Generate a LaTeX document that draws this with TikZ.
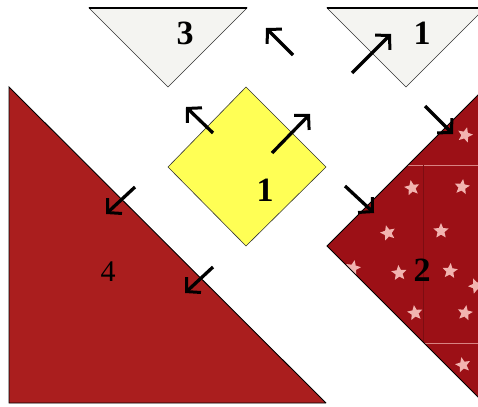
\documentclass[tikz,border=0pt]{standalone}
\usepackage{fontspec}
\setmainfont{Liberation Serif}
\usetikzlibrary{arrows.meta,shapes.geometric}
\definecolor{paper}{HTML}{F4F4F1}
\definecolor{redA}{HTML}{AA1E1E}
\definecolor{redB}{HTML}{9C1016}
\definecolor{starpink}{HTML}{F2B4B0}
\definecolor{yel}{HTML}{FFFF55}
\tikzset{
  piece/.style={draw=black!80, line width=0.6pt, line join=miter},
  lbl/.style={inner sep=0pt, font=\fontsize{34}{34}\selectfont\bfseries},
  mv/.style={line width=3.3pt, -{Straight Barb[length=10pt,width=21pt,line width=3pt]}},
  fabstar/.style={star, star points=5, star point ratio=2.2, fill=starpink, draw=none, minimum size=16pt, inner sep=0pt},
}
\begin{document}
\begin{tikzpicture}[x=1pt,y=-1pt]
\useasboundingbox (0,0) rectangle (478,406);
\fill[white] (0,0) rectangle (478,406);
% top triangles
\path[piece, fill=paper] (89,8) -- (247,8) -- (168,87) -- cycle;
\draw[line width=1.2pt] (89,8) -- (247,8);
\path[piece, fill=paper] (327,8) -- (485,8) -- (406,87) -- cycle;
\draw[line width=1.2pt] (327,8) -- (485,8);
% yellow square
\path[piece, fill=yel] (246,87) -- (326,167) -- (246,246) -- (168,167) -- cycle;
% left red triangle
\path[fill=redA] (9,87) -- (9,403) -- (326,403) -- cycle;
\draw[black, line width=0.9pt] (326,403) -- (9,403) -- (9,87) -- (326,403);
% right red piece
\begin{scope}
\clip (327,246) -- (482,91) -- (482,401) -- cycle;
\fill[redB] (327,246) -- (482,91) -- (482,401) -- cycle;
\draw[starpink!70!redB, line width=1pt] (400,165) -- (480,165);
\draw[starpink!70!redB, line width=1pt] (400,343) -- (480,343);
\draw[redB!80!black, line width=0.6pt] (423,165) -- (423,343);
\foreach \x/\y/\r in {412/188/10, 462/187/-8, 388/233/15, 441/231/0, 353/268/-12, 399/273/5,
  450/271/-5, 476/286/20, 415/313/8, 465/313/-10, 463/365/12, 465/135/-15, 476/90/0}
  \node[fabstar, rotate=\r] at (\x,\y) {};
\end{scope}
\draw[black, line width=0.9pt] (482,91) -- (327,246) -- (482,401);
% labels
\node[lbl] (n3) at (185,33) {3};
\node[lbl] (n1a) at (422,33) {1};
\node[lbl] (n1b) at (265,190) {1};
\node[inner sep=0pt, font=\fontsize{30}{30}\selectfont] (n4) at (108,272) {4};
\node[lbl] (n2) at (422,270) {2};
% arrows
\coordinate (a1s) at (293,55); \coordinate (a1e) at (266,28);
\coordinate (a2s) at (352,73); \coordinate (a2e) at (391,34);
\coordinate (a3s) at (213,133); \coordinate (a3e) at (186,107);
\coordinate (a4s) at (272,153); \coordinate (a4e) at (310,114);
\coordinate (a5s) at (135,187); \coordinate (a5e) at (106,214);
\coordinate (a6s) at (213,267); \coordinate (a6e) at (185,293);
\coordinate (a7s) at (345,186); \coordinate (a7e) at (374,213);
\coordinate (a8s) at (425,106); \coordinate (a8e) at (453,134);
\foreach \s/\e in {a1s/a1e,a2s/a2e,a3s/a3e,a4s/a4e,a5s/a5e,a6s/a6e,a7s/a7e,a8s/a8e}
  \draw[mv] (\s) -- (\e);
\end{tikzpicture}
\end{document}
